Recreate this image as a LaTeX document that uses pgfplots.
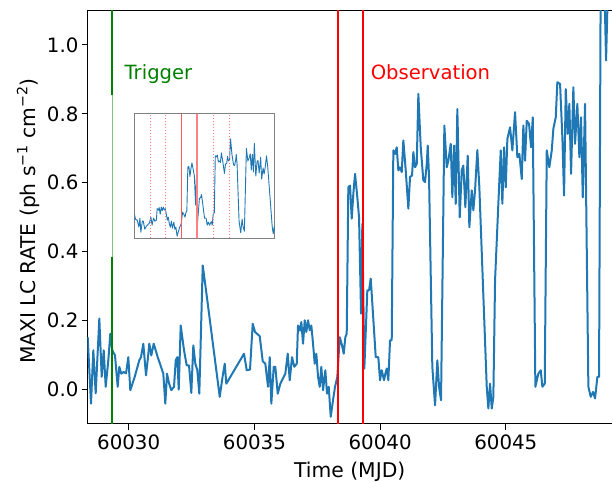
\documentclass[border=0pt]{standalone}
\usepackage{fontspec}
\setmainfont{DejaVu Sans}
\usepackage{pgfplots}
\pgfplotsset{compat=1.18}
\usepackage{pgfplotstable}

\definecolor{mplblue}{HTML}{1F77B4}
\definecolor{mplgreen}{HTML}{008000}
\definecolor{mplred}{HTML}{FF0000}
\definecolor{fadegreen}{HTML}{80C080}
\definecolor{softred}{HTML}{FF5A5A}
\definecolor{palered}{HTML}{FF8080}
\definecolor{dotred}{HTML}{FF7A7A}

% superscript at 70% of the label size
\newcommand{\sps}[1]{\raisebox{0.42em}{\fontsize{14.2bp}{16bp}\selectfont #1}}

% MAXI light curve; t = MJD - 60000 (days), rate in ph s^-1 cm^-2
\pgfplotstableread{
t rate
28.369 0.152
28.500 -0.041
28.592 0.114
28.687 -0.011
28.831 0.206
28.926 0.037
29.006 0.114
29.085 0.008
29.189 0.085
29.268 0.162
29.348 0.114
29.455 0.099
29.562 0.008
29.626 0.066
29.706 0.046
29.801 0.051
29.893 0.047
29.984 0.094
30.064 -0.002
30.239 0.037
30.422 0.085
30.489 0.094
30.581 0.133
30.688 0.041
30.768 0.094
30.819 0.133
30.899 0.099
30.994 0.133
31.154 0.094
31.285 0.066
31.376 0.046
31.456 -0.041
31.523 0.046
31.603 0.018
31.695 -0.002
31.802 0.008
31.870 0.085
31.933 0.094
31.989 0.000
32.068 0.186
32.200 0.114
32.307 0.070
32.399 0.070
32.490 -0.010
32.570 0.128
32.649 0.075
32.729 0.056
32.808 -0.012
32.944 0.360
33.075 0.288
33.620 -0.021
33.723 0.032
33.819 0.075
33.882 0.017
34.586 0.104
34.694 0.056
34.825 0.058
34.932 0.191
35.024 0.167
35.211 0.155
35.330 0.082
35.434 0.075
35.541 0.008
35.609 0.094
35.672 -0.041
35.768 0.066
35.831 0.066
35.927 -0.012
36.030 0.017
36.229 0.046
36.325 0.104
36.404 0.027
36.496 0.094
36.587 0.066
36.683 0.075
36.734 0.186
36.814 0.171
36.866 0.196
36.933 0.133
37.001 0.201
37.064 0.167
37.132 0.201
37.200 0.172
37.263 0.186
37.331 0.133
37.399 0.075
37.462 0.104
37.530 0.037
37.597 0.008
37.661 0.066
37.729 -0.002
37.820 0.056
37.888 -0.012
37.955 0.008
38.035 -0.079
38.126 -0.031
38.206 0.008
38.298 0.037
38.393 0.152
38.485 0.128
38.552 0.104
38.616 0.152
38.671 0.162
38.735 0.587
38.803 0.592
38.870 0.496
38.934 0.568
39.002 0.626
39.093 0.558
39.161 0.500
39.241 0.220
39.292 0.481
39.372 0.061
39.491 0.288
39.559 0.288
39.626 0.322
39.690 0.250
39.825 0.094
39.928 0.094
39.996 0.027
40.064 0.056
40.155 0.027
40.207 0.046
40.263 0.061
40.326 0.027
40.394 0.143
40.461 0.143
40.525 0.694
40.593 0.684
40.660 0.703
40.724 0.636
40.792 0.645
40.859 0.631
40.923 0.723
41.018 0.636
41.122 0.525
41.189 0.617
41.269 0.621
41.321 0.689
41.389 0.645
41.456 0.655
41.520 0.858
41.615 0.703
41.718 0.607
41.786 0.602
41.854 0.655
41.893 0.708
41.945 0.617
42.076 0.066
42.184 -0.046
42.275 0.085
42.343 0.008
42.422 -0.031
42.554 0.766
42.649 0.645
42.713 0.664
42.808 0.713
42.872 0.558
42.940 0.708
43.007 0.539
43.071 0.814
43.166 0.500
43.246 0.636
43.309 0.650
43.389 0.529
43.484 0.679
43.548 0.471
43.644 0.578
43.707 0.520
43.775 0.578
43.866 0.695
43.946 0.587
44.240 0.008
44.304 -0.055
44.372 0.017
44.439 -0.055
44.503 -0.021
44.571 0.317
44.730 0.587
44.797 0.694
44.861 0.539
44.929 0.703
44.996 0.587
45.060 0.727
45.167 0.761
45.259 0.694
45.366 0.805
45.458 0.674
45.537 0.684
45.633 0.611
45.696 0.766
45.764 0.664
45.831 0.780
45.923 0.771
46.003 0.703
46.070 0.790
46.174 0.008
46.293 0.046
46.389 0.056
46.452 0.008
46.547 0.017
46.627 0.694
46.730 0.645
46.826 0.694
46.890 0.757
46.985 0.790
47.049 0.892
47.156 0.887
47.248 0.732
47.315 0.563
47.383 0.872
47.462 0.742
47.526 0.829
47.594 0.626
47.685 0.877
47.753 0.713
47.844 0.829
47.924 0.674
47.991 0.790
48.059 0.558
48.150 0.829
48.282 0.008
48.377 -0.021
48.469 -0.007
48.548 -0.026
48.640 0.037
48.707 0.037
48.775 1.250
48.880 1.300
48.986 0.955
49.105 1.300
49.222 1.250
}\lc

\begin{document}
\begin{tikzpicture}
\begin{axis}[
  name=main,
  scale only axis,
  width=524.5bp, height=413.5bp,
  xmin=28.361, xmax=49.222,
  ymin=-0.1, ymax=1.1,
  axis x line=box, axis y line=left,
  y axis line style={-},
  axis line style={black, line width=1bp},
  tick pos=left,
  tick align=outside,
  major tick length=5.5bp,
  tick style={black, line width=1bp},
  scaled x ticks=false, scaled y ticks=false,
  xtick={30,35,40,45},
  xticklabels={60030,60035,60040,60045},
  ytick={0,0.2,0.4,0.6,0.8,1.0},
  yticklabels={0.0,0.2,0.4,0.6,0.8,1.0},
  tick label style={font=\fontsize{19.8bp}{23bp}\selectfont},
  xticklabel style={yshift=-1.5bp},
  label style={font=\fontsize{20.3bp}{24bp}\selectfont},
  xlabel={Time (MJD)},
  xlabel style={at={(rel axis cs:0.5,-0.1294)}, anchor=base, inner sep=0pt},
  ylabel={MAXI LC RATE (ph s\sps{−1} cm\sps{−2})},
  ylabel style={at={(rel axis cs:-0.0982,0.49)}, anchor=base, inner sep=0pt},
  clip=true,
]
\addplot[mplblue, line width=2bp, line join=round] table[x=t, y=rate] {\lc};

% trigger time (part of the line is faded behind the inset area)
\addplot[mplgreen, line width=2bp] coordinates {(29.35,-0.1) (29.35,0.384)};
\addplot[fadegreen, line width=1.3bp] coordinates {(29.35,0.384) (29.35,0.855)};
\addplot[mplgreen, line width=2bp] coordinates {(29.35,0.855) (29.35,1.1)};

% observation window
\addplot[mplred, line width=2bp] coordinates {(38.34,-0.1) (38.34,1.1)};
\addplot[mplred, line width=2bp] coordinates {(39.33,-0.1) (39.33,1.1)};

\node[anchor=base west, inner sep=0pt, text=mplgreen,
      font=\fontsize{19.6bp}{23bp}\selectfont] at (axis cs:29.83,0.9) {Trigger};
\node[anchor=base west, inner sep=0pt, text=mplred,
      font=\fontsize{19.6bp}{23bp}\selectfont] at (axis cs:39.62,0.9) {Observation};

\coordinate (bl) at (rel axis cs:0,0);
\coordinate (tr) at (rel axis cs:1,1);
\coordinate (ins) at (rel axis cs:0.090,0.449);
\end{axis}

% zoomed view of the observation period
\begin{axis}[
  at={(ins)}, anchor=south west,
  scale only axis,
  width=140bp, height=124.6bp,
  xmin=35.27, xmax=44.40,
  ymin=-0.1, ymax=1.1,
  ticks=none,
  axis line style={gray, line width=1bp},
  axis background/.style={fill=white},
]
\addplot[mplblue, line width=0.9bp, line join=round] table[x=t, y=rate] {\lc};
\addplot[dotred, dotted, line width=1bp] coordinates {(36.29,-0.1) (36.29,1.1)};
\addplot[dotred, dotted, line width=1bp] coordinates {(37.25,-0.1) (37.25,1.1)};
\addplot[softred, line width=1bp] coordinates {(38.34,-0.1) (38.34,1.1)};
\addplot[palered, line width=1.8bp] coordinates {(39.34,-0.1) (39.34,1.1)};
\addplot[dotred, dotted, line width=1bp] coordinates {(40.43,-0.1) (40.43,1.1)};
\addplot[dotred, dotted, line width=1bp] coordinates {(41.43,-0.1) (41.43,1.1)};
\end{axis}

\pgfresetboundingbox
\path ([shift={(-87.5bp,-58bp)}]bl) rectangle ([shift={(0bp,10.5bp)}]tr);
\end{tikzpicture}
\end{document}
